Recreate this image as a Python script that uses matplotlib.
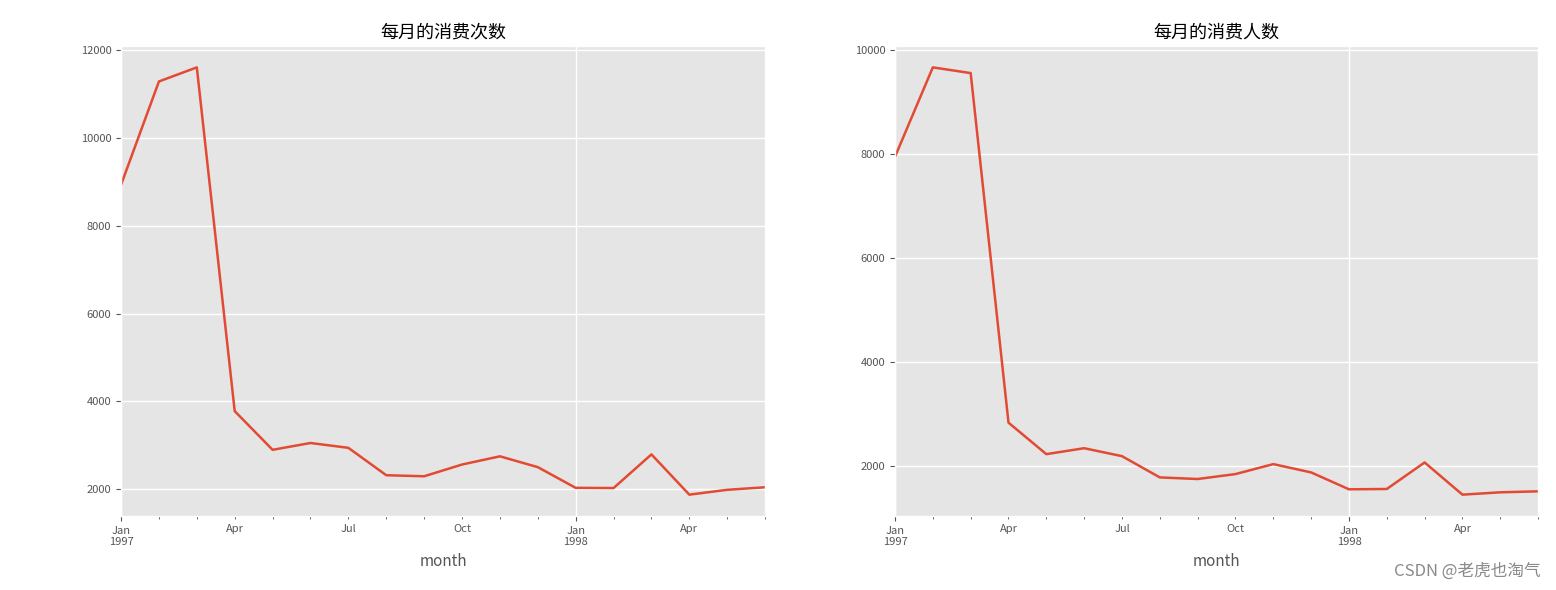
import matplotlib
matplotlib.use("Agg")
import matplotlib.pyplot as plt
import pandas as pd

plt.style.use('ggplot')
plt.rcParams['font.family'] = ['Noto Sans CJK SC', 'DejaVu Sans']
plt.rcParams['axes.unicode_minus'] = False

# monthly data, Jan 1997 - Jun 1998
months = pd.period_range('1997-01', '1998-06', freq='M', name='month')
order_counts = [8930, 11280, 11600, 3780, 2900, 3055, 2945, 2322, 2298,
                2565, 2752, 2506, 2035, 2030, 2796, 1880, 1990, 2048]
user_counts = [7950, 9670, 9560, 2830, 2224, 2338, 2185, 1776, 1745,
               1840, 2032, 1872, 1547, 1553, 2064, 1444, 1489, 1508]
titles = ['每月的消费次数', '每月的消费人数']

fig = plt.figure(figsize=(15.56, 5.9), dpi=100)
ax1 = fig.add_axes([0.0778, 0.1254, 0.4139, 0.7966])
ax2 = fig.add_axes([0.5752, 0.1254, 0.4133, 0.7966])

for ax, values, title in zip([ax1, ax2], [order_counts, user_counts], titles):
    s = pd.Series(values, index=months)
    s.plot(ax=ax, linewidth=1.8, color='#E24A33')
    ax.set_title(title, fontsize=13, pad=6)
    ax.set_xlabel('month', fontsize=11, color='#555555')
    ax.tick_params(axis='both', which='both', labelsize=8, colors='#555555')
    ax.grid(True, which='major', color='white', linewidth=1)

fig.text(0.99, 0.018, 'CSDN @老虎也淘气', ha='right', va='bottom',
         fontsize=12, color='#8a8a8a')

fig.savefig('out.png', dpi=100)
